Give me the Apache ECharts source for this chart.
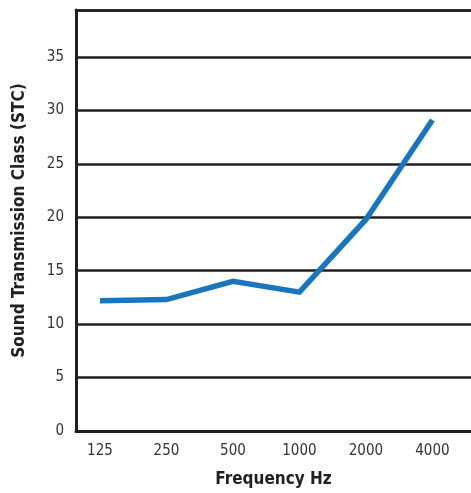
<!DOCTYPE html>
<html><head><meta charset="utf-8">
<script src="https://cdn.jsdelivr.net/npm/echarts@6/dist/echarts.min.js"></script>
<style>html,body{margin:0;padding:0;background:#fff}#c{width:471px;height:493px}</style>
</head><body><div id="c"></div>
<script>
const frequencies = ['125', '250', '500', '1000', '2000', '4000'];
const stcValues = [12.2, 12.3, 14.0, 13.0, 19.8, 29.1];
const yTicks = [0, 5, 10, 15, 20, 25, 30, 35];

const FONT = "'Liberation Sans Narrow', 'DejaVu Sans Condensed', sans-serif";
const chart = echarts.init(document.getElementById('c'));
chart.setOption({
  animation: false,
  grid: { left: 76, top: 10, bottom: 60, right: 0 },
  xAxis: [{
    type: 'value', min: -0.36, max: 5.58,
    name: 'Frequency Hz', nameLocation: 'middle', nameGap: 40,
    nameTextStyle: { fontFamily: FONT, fontWeight: 'bold', fontSize: 17, color: '#231f20' },
    axisLine: { show: true, onZero: false, lineStyle: { color: '#231f20', width: 3 } },
    axisTick: { show: false },
    splitLine: { show: false },
    axisLabel: { customValues: frequencies.map((f, i) => i), formatter: v => frequencies[Math.round(v)],
      fontFamily: FONT, fontSize: 15, color: '#333', margin: 13 }
  }, {
    type: 'value', position: 'top', min: -0.36, max: 5.58,
    axisLine: { show: true, onZero: false, lineStyle: { color: '#231f20', width: 2.5 } },
    axisTick: { show: false }, axisLabel: { show: false }, splitLine: { show: false }
  }],
  yAxis: {
    type: 'value', min: 0, max: 39.4, interval: 5,
    name: 'Sound Transmission Class (STC)', nameLocation: 'middle', nameGap: 48,
    nameTextStyle: { fontFamily: FONT, fontWeight: 'bold', fontSize: 17, color: '#231f20' },
    axisLine: { show: true, onZero: false, lineStyle: { color: '#231f20', width: 3 } },
    axisTick: { show: false },
    splitLine: { show: true, lineStyle: { color: '#231f20', width: 2.5 } },
    axisLabel: { customValues: yTicks, fontFamily: FONT, fontSize: 15, color: '#333', margin: 12 }
  },
  series: [{
    type: 'line',
    data: stcValues.map((v, i) => [i, v]),
    symbol: 'none',
    lineStyle: { color: '#1a75bc', width: 5.5, cap: 'butt', join: 'miter' }
  }]
});
</script></body></html>
